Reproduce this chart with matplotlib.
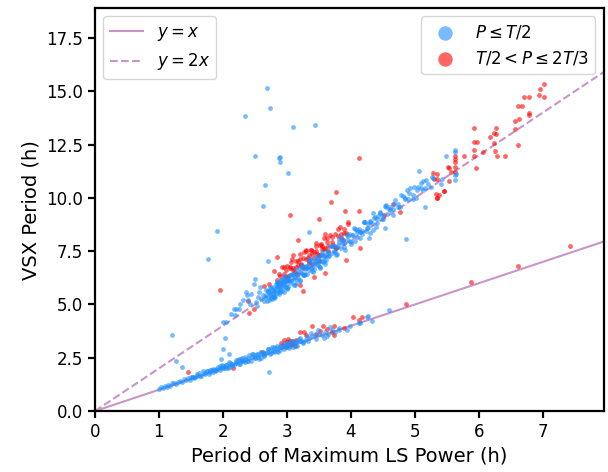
import matplotlib
matplotlib.use("Agg")
import matplotlib.pyplot as plt

# ---------------- data ----------------
# upper band (VSX period ~ 2 x LS period), P <= T/2
up_blue_x = [2.18, 2.21, 2.25, 2.19, 2.26, 2.31, 2.36, 2.38, 2.43, 2.44, 2.48, 2.50, 2.05, 2.12, 2.40, 2.52, 2.55, 2.57, 2.60, 2.62, 2.58, 2.53,
             2.65, 2.67, 2.68, 2.70, 2.71, 2.72, 2.73, 2.74, 2.75, 2.76, 2.77, 2.78, 2.79, 2.80, 2.81, 2.82, 2.83, 2.84, 2.85, 2.86, 2.87,
             2.88, 2.89, 2.90, 2.91, 2.92, 2.93, 2.94, 2.95, 2.96, 2.97, 2.98, 2.99, 3.00,
             2.66, 2.69, 2.72, 2.75, 2.78, 2.81, 2.84, 2.87, 2.90, 2.93, 2.96, 2.99,
             3.01, 3.03, 3.05, 3.07, 3.09, 3.11, 3.13, 3.15, 3.17, 3.19, 3.21, 3.23, 3.25, 3.27, 3.29, 3.31, 3.33, 3.35, 3.37, 3.39,
             3.41, 3.43, 3.45, 3.47, 3.49, 3.51, 3.53, 3.55, 3.57, 3.59,
             3.02, 3.06, 3.10, 3.14, 3.18, 3.22, 3.26, 3.30, 3.34, 3.38, 3.42, 3.46, 3.50, 3.54, 3.58,
             3.61, 3.64, 3.67, 3.70, 3.73, 3.76, 3.79, 3.82, 3.85, 3.88, 3.91, 3.94, 3.97, 4.00, 4.03, 4.06, 4.09, 4.12, 4.15, 4.18,
             4.21, 4.24, 4.27, 4.30, 4.33, 4.36, 4.39,
             3.62, 3.66, 3.70, 3.74, 3.78, 3.82, 3.86, 3.90, 3.94, 3.98, 4.02, 4.06, 4.10, 4.14, 4.18, 4.22, 4.26, 4.30, 4.34, 4.38,
             4.41, 4.45, 4.49, 4.53, 4.57, 4.61, 4.65, 4.69, 4.73, 4.77, 4.81, 4.85, 4.89, 4.93, 4.97, 5.01, 5.05, 5.09, 5.13, 5.17,
             5.21, 5.25, 5.29,
             4.43, 4.49, 4.55, 4.61, 4.67, 4.73, 4.79, 4.85, 4.91, 4.97, 5.03, 5.09, 5.15,
             5.63, 5.63, 5.49, 5.64, 5.63, 5.63, 5.43, 5.40, 5.26, 5.06, 5.15, 5.12, 4.99, 4.88,
             2.70, 2.75, 2.80, 2.85, 2.90, 2.95, 3.00, 3.05, 3.10, 3.15, 3.20, 3.25, 3.30, 3.35, 3.40, 3.45, 3.50, 3.55, 3.60, 3.65,
             3.70, 3.75, 3.80, 3.85, 3.90, 3.95, 4.00, 4.05, 4.10, 4.15, 4.20, 4.25, 4.30, 4.35, 4.40, 4.45, 4.50, 4.55, 4.60, 4.65,
             2.80, 2.84, 2.88, 2.92, 2.96, 3.00, 3.04, 3.08, 3.12, 3.16, 3.20, 3.24, 3.28, 3.32, 3.36, 3.40, 3.44, 3.48, 3.52, 3.56,
             3.60]
up_blue_y = [4.81, 4.81, 4.80, 4.50, 5.00, 5.22, 5.60, 5.43, 5.00, 5.47, 5.98, 6.20, 4.20, 4.55, 5.20, 5.10, 5.35, 5.60, 5.25, 5.45, 5.80, 4.95,
             5.15, 5.44, 5.66, 5.35, 5.62, 5.19, 5.51, 5.83, 5.40, 5.67, 5.24, 5.56, 5.83, 5.40, 5.72, 5.59, 5.96, 5.53, 5.75, 5.92, 5.49,
             5.86, 5.68, 5.95, 6.17, 5.64, 5.86, 6.13, 5.60, 5.97, 6.09, 5.81, 6.28, 5.95,
             5.37, 5.18, 5.59, 5.75, 5.41, 5.37, 5.88, 6.04, 5.60, 6.21, 5.82, 6.08,
             5.82, 6.16, 6.40, 6.09, 6.38, 5.92, 6.31, 6.65, 6.24, 6.53, 6.17, 6.46, 6.75, 6.39, 6.68, 6.42, 6.76, 7.00, 6.69, 6.98,
             6.52, 6.91, 7.25, 6.84, 7.13, 6.77, 7.06, 7.35, 6.99, 7.28,
             6.19, 6.02, 6.45, 6.03, 6.41, 6.74, 6.37, 6.80, 6.63, 7.11, 6.64, 7.02, 7.00, 7.33, 7.06,
             7.07, 7.48, 7.74, 7.40, 7.76, 7.32, 7.68, 8.09, 7.65, 8.01, 7.57, 8.03, 8.29, 7.85, 8.26, 8.52, 8.18, 8.54, 8.10, 8.46,
             8.87, 8.43, 8.79, 8.35, 8.81, 9.07, 8.63,
             7.49, 7.27, 7.75, 7.53, 7.36, 7.94, 7.87, 7.70, 8.28, 7.96, 8.24, 7.97, 8.50, 8.38, 8.31, 8.89, 8.57, 8.85, 8.48, 9.11,
             8.82, 9.30, 9.18, 9.61, 9.24, 9.57, 9.20, 9.88, 9.71, 9.59, 10.07, 10.00, 9.93, 10.46, 10.14, 9.97, 10.50, 10.48, 10.36, 10.84,
             10.67, 10.50, 10.93,
             9.16, 9.03, 9.55, 9.42, 9.69, 9.56, 10.13, 9.95, 10.22, 9.94, 10.36, 10.68, 10.45,
             12.24, 12.13, 11.97, 11.14, 10.83, 11.06, 10.86, 10.67, 11.00, 11.25, 9.56, 10.80, 10.52, 10.36,
             5.62, 5.32, 5.65, 6.02, 5.72, 6.05, 5.72, 6.38, 6.20, 6.18, 6.67, 6.37, 6.70, 7.07, 6.77, 7.10, 6.82, 7.48, 7.30, 7.28,
             7.72, 7.47, 7.80, 8.17, 7.87, 8.20, 7.92, 8.58, 8.40, 8.38, 8.87, 8.57, 8.90, 9.27, 9.02, 9.35, 9.02, 9.68, 9.50, 9.48,
             5.30, 6.06, 5.64, 6.02, 6.34, 5.78, 6.16, 6.44, 5.89, 6.44, 6.10, 6.86, 6.44, 6.82, 7.14, 6.58, 6.96, 7.24, 6.69, 7.24,
             6.90]

# lower band (VSX period ~ LS period), P <= T/2
low_blue_x = [1.00, 1.03, 1.06, 1.09, 1.12, 1.15, 1.18, 1.21, 1.24, 1.27, 1.30, 1.33, 1.36, 1.39, 1.42, 1.45, 1.48, 1.51, 1.54, 1.57,
              1.60, 1.63, 1.66, 1.69, 1.72, 1.75, 1.78, 1.81, 1.84, 1.87, 1.90, 1.93, 1.96, 1.99, 2.02, 2.05, 2.08, 2.11, 2.14, 2.17,
              2.20, 2.23, 2.26, 2.29, 2.32, 2.35, 2.38, 2.41, 2.44, 2.47, 2.50, 2.53, 2.56, 2.59, 2.62, 2.65, 2.68, 2.71, 2.74, 2.77,
              2.80, 2.83, 2.86, 2.89, 2.92, 2.95, 2.98, 3.01, 3.04, 3.07, 3.10, 3.13, 3.16, 3.19, 3.22, 3.25, 3.28, 3.31,
              1.50, 1.55, 1.60, 1.65, 1.70, 1.75, 1.80, 1.85, 1.90, 1.95, 2.00, 2.05, 2.10, 2.15, 2.20, 2.25, 2.30, 2.35, 2.40, 2.45,
              2.50, 2.55, 2.60, 2.65, 2.70, 2.75, 2.80, 2.85, 2.90, 2.95, 3.00, 3.05, 3.10, 3.15, 3.20,
              3.35, 3.40, 3.45, 3.50, 3.55, 3.60, 3.65, 3.70, 3.75, 3.82, 3.82, 3.94, 3.98, 4.15, 4.25, 4.33, 4.59, 3.38, 3.48, 3.58,
              3.68, 3.62, 3.33, 3.44, 4.13, 4.26,
              1.80, 1.85, 1.90, 1.95, 2.00, 2.05, 2.10, 2.15, 2.20, 2.25, 2.30, 2.35, 2.40, 2.45, 2.50, 2.55, 2.60, 2.65, 2.70, 2.75,
              2.80, 2.85, 2.90, 2.95, 3.00, 3.05, 3.10, 3.15, 3.20, 3.25]
low_blue_y = [1.05, 1.12, 1.07, 1.20, 1.15, 1.23, 1.18, 1.31, 1.30, 1.29, 1.35, 1.42, 1.37, 1.50, 1.45, 1.53, 1.48, 1.61, 1.60, 1.59,
              1.65, 1.78, 1.63, 1.86, 1.73, 1.86, 1.73, 1.95, 1.91, 1.86, 1.95, 2.08, 1.93, 2.16, 2.03, 2.16, 2.03, 2.25, 2.21, 2.16,
              2.25, 2.38, 2.23, 2.46, 2.33, 2.46, 2.33, 2.61, 2.37, 2.70, 2.49, 2.67, 2.46, 2.77, 2.70, 2.61, 2.73, 2.91, 2.67, 3.00,
              2.79, 2.97, 2.76, 3.07, 3.00, 2.91, 3.03, 3.21, 2.97, 3.30, 3.09, 3.27, 3.06, 3.37, 3.30, 3.21, 3.33, 3.51,
              1.59, 1.57, 1.72, 1.65, 1.77, 1.86, 1.84, 1.98, 1.91, 2.03, 2.13, 2.04, 2.29, 2.10, 2.29, 2.42, 2.33, 2.56, 2.37, 2.56,
              2.63, 2.54, 2.79, 2.60, 2.79, 2.92, 2.83, 3.06, 2.87, 3.06, 3.13, 3.04, 3.29, 3.10, 3.29,
              3.42, 3.50, 3.40, 3.60, 3.55, 3.72, 3.62, 3.80, 3.70, 3.88, 3.80, 3.80, 4.00, 4.11, 4.42, 4.22, 4.72, 3.65, 3.78, 3.45,
              3.95, 3.52, 3.30, 3.55, 4.11, 4.45,
              1.93, 1.84, 1.99, 2.11, 2.03, 2.16, 2.07, 2.21, 2.41, 2.23, 2.49, 2.30, 2.51, 2.68, 2.51, 2.70, 2.51, 2.72, 2.91, 2.73,
              2.99, 2.80, 3.01, 3.18, 3.01, 3.20, 3.01, 3.22, 3.41, 3.23]

# scattered P <= T/2 points away from the two bands
out_blue_x = [2.69, 2.74, 2.35, 3.10, 3.44, 2.50, 2.87, 2.89, 2.90, 3.01, 2.66, 2.63, 1.91, 1.77, 1.20, 2.70, 3.35, 4.28, 4.54, 4.86,
              2.00, 2.03, 2.00, 2.09, 1.97, 1.26, 1.36, 2.72]
out_blue_y = [15.16, 14.20, 13.83, 13.33, 13.41, 11.95, 11.88, 11.92, 11.67, 11.17, 10.60, 9.64, 8.44, 7.13, 3.58, 7.03, 8.38, 8.13, 8.60, 8.06,
              4.19, 3.41, 2.89, 2.67, 2.44, 2.34, 2.05, 1.84]

# T/2 < P <= 2T/3, upper band and scattered
up_red_x = [2.850, 2.875, 2.900, 2.925, 2.950, 2.975, 3.000, 3.025, 3.050, 3.075, 3.100, 3.125, 3.150, 3.175, 3.200, 3.225, 3.250,
            3.275, 3.300, 3.325, 3.350, 3.375, 3.400, 3.425, 3.450, 3.475, 3.500, 3.525, 3.550, 3.575, 3.600, 3.625, 3.650, 3.675,
            3.700, 3.725, 3.750, 3.775, 3.800, 3.825, 3.850, 3.875, 3.900, 3.925, 3.950,
            2.98, 3.02, 3.06, 3.10, 3.14, 3.18, 3.22, 3.26, 3.30, 3.34, 3.38, 3.42, 3.46, 3.50, 3.54, 3.58, 3.62,
            2.90, 2.95, 3.00, 3.05, 3.10, 3.15, 3.20, 3.25, 3.30, 3.35, 3.40, 3.45, 3.50, 3.55, 3.60, 3.65, 3.70, 3.75, 3.80, 3.85,
            3.90, 3.95,
            2.39, 2.41, 2.48, 2.80, 1.95, 2.65, 2.72,
            4.12, 3.77, 3.69, 3.05, 3.91, 4.12, 3.50, 3.17, 2.85, 4.14, 3.93, 3.59, 3.43, 3.20, 3.25,
            4.65, 4.76, 4.52, 5.33, 5.35, 5.30, 5.45, 5.28, 5.51,
            7.01, 6.95, 7.02, 6.94, 6.70, 6.78, 6.61, 6.68, 6.79, 6.78, 6.56, 6.63, 6.57, 6.61, 5.92, 6.27, 6.18, 6.24, 6.26, 6.24,
            5.92, 5.97, 5.93, 6.06, 6.25, 6.28, 6.41, 5.93, 5.95, 5.76, 5.63, 5.63, 5.63, 5.53, 5.56, 5.63, 5.63, 5.35, 5.34, 5.53,
            5.45, 5.34, 5.37]
up_red_y = [6.15, 6.45, 6.00, 6.75, 6.45, 6.30, 6.80, 6.15, 6.70, 7.15, 6.60, 6.50, 7.05, 6.85, 7.35, 6.90, 7.20,
            6.75, 7.50, 7.20, 7.05, 7.55, 6.90, 7.45, 7.90, 7.35, 7.25, 7.80, 7.60, 8.10, 7.65, 7.95, 7.50, 8.25,
            7.95, 7.80, 8.30, 7.65, 8.20, 8.65, 8.10, 8.00, 8.55, 8.35, 8.85,
            6.61, 6.34, 6.97, 6.70, 6.43, 7.06, 6.84, 7.47, 7.15, 6.93, 7.56, 7.19, 7.52, 7.05, 7.83, 7.61, 8.14,
            6.35, 6.75, 6.30, 6.75, 7.30, 6.75, 7.15, 6.70, 7.55, 7.30, 7.35, 7.75, 7.30, 7.75, 8.30, 7.75, 8.15, 7.70, 8.55, 8.30,
            8.35, 8.75,
            5.17, 4.61, 4.80, 6.58, 5.67, 5.85, 5.95,
            11.88, 10.28, 9.81, 9.19, 9.39, 9.39, 9.00, 8.02, 7.23, 7.63, 7.08, 6.48, 6.30, 5.91, 5.64,
            9.70, 9.34, 9.19, 10.20, 9.99, 10.90, 10.31, 11.16, 11.45,
            15.33, 15.11, 14.74, 14.83, 14.75, 14.74, 14.29, 14.29, 13.99, 13.88, 13.61, 13.68, 13.22, 12.47, 13.27, 13.28, 12.85, 13.05, 12.99, 12.58,
            12.64, 12.64, 12.24, 12.17, 12.20, 11.94, 11.97, 11.95, 11.42, 11.95, 11.95, 11.83, 11.69, 11.42, 11.20, 11.45, 11.20, 11.14, 10.89, 10.80,
            10.31, 9.99, 10.13]

# T/2 < P <= 2T/3, lower band
low_red_x = [2.91, 2.96, 2.99, 3.04, 3.00, 3.05, 3.08, 2.94, 3.10, 3.12, 3.02, 3.15, 2.63, 2.16, 1.46, 3.21, 3.26, 3.39, 3.51, 3.56,
             3.74, 3.70, 3.90, 3.73, 4.03, 4.17, 4.13, 4.86, 5.87, 6.61, 7.43, 3.30, 3.45, 3.62]
low_red_y = [3.20, 3.32, 3.02, 3.10, 3.25, 3.28, 3.15, 3.10, 3.30, 3.05, 3.40, 3.35, 2.78, 2.00, 1.84, 3.69, 3.69, 3.98, 3.76, 3.97,
             4.00, 3.73, 3.92, 3.56, 4.39, 4.42, 4.27, 5.00, 6.05, 6.80, 7.74, 3.55, 3.62, 3.85]

ref_x = [0, 8]
ref_y1 = [0, 8]
ref_y2 = [0, 16]

xticks = [0, 1, 2, 3, 4, 5, 6, 7]
yticks = [0.0, 2.5, 5.0, 7.5, 10.0, 12.5, 15.0, 17.5]

# ---------------- figure ----------------
fig = plt.figure(figsize=(6.08, 4.72), dpi=100)
ax = fig.add_axes([0.156, 0.129, 0.837, 0.854])

line_col = "#c994c7"
l1, = ax.plot(ref_x, ref_y1, color=line_col, lw=1.5, zorder=1, label=r"$y = x$")
l2, = ax.plot(ref_x, ref_y2, color=line_col, lw=1.5, ls="--", zorder=1, label=r"$y = 2x$")

ms = 12
red_pts = ax.scatter(up_red_x + low_red_x, up_red_y + low_red_y, s=ms, color="red", alpha=0.6,
                     linewidths=0, zorder=2, label=r"$T/2 < P \leq 2T/3$")
blue_pts = ax.scatter(up_blue_x + low_blue_x + out_blue_x, up_blue_y + low_blue_y + out_blue_y, s=ms,
                      color="dodgerblue", alpha=0.6, linewidths=0, zorder=3, label=r"$P \leq T/2$")

ax.set_xlim(0, 7.95)
ax.set_ylim(0, 18.9)
ax.set_xticks(xticks)
ax.set_yticks(yticks)
ax.tick_params(labelsize=12, width=1.6, length=5)
for sp in ax.spines.values():
    sp.set_linewidth(1.6)
ax.set_xlabel("Period of Maximum LS Power (h)", fontsize=14)
ax.set_ylabel("VSX Period (h)", fontsize=14)

leg1 = ax.legend(handles=[l1, l2], loc="upper left", fontsize=12)
ax.add_artist(leg1)
ax.legend(handles=[blue_pts, red_pts], loc="upper right", fontsize=12, markerscale=3.0)

fig.savefig("out.png", dpi=100)
